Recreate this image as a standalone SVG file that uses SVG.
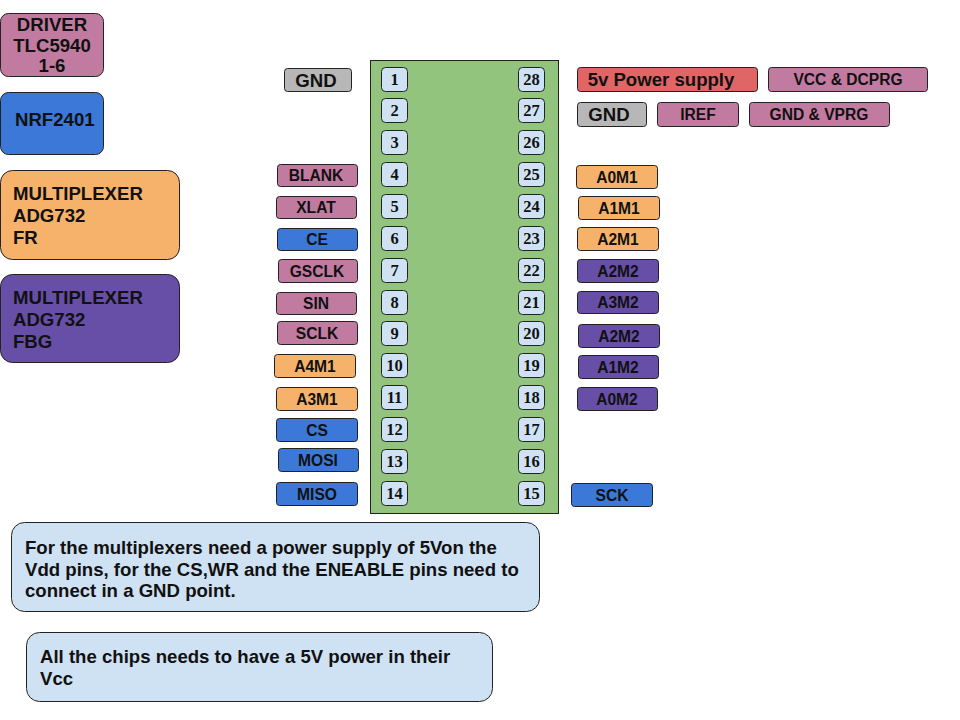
<svg xmlns="http://www.w3.org/2000/svg" width="960" height="720" viewBox="0 0 960 720">
<style>
.t{font-family:"Liberation Sans",Arial,sans-serif;font-weight:bold;fill:#111;}
.c{text-anchor:middle;}
.s15{font-size:15.6px;}
.s18{font-size:18.6px;}
.pn{font-family:"Liberation Serif","Times New Roman",serif;font-weight:bold;font-size:16.5px;fill:#111;text-anchor:middle;}
.lb{stroke:#222;stroke-width:1;}
.mag{fill:#c27ba0;}
.blu{fill:#3c78d8;}
.org{fill:#f6b26b;}
.pur{fill:#674ea7;}
.gry{fill:#b7b7b7;}
.red{fill:#e06666;}
.lbl{fill:#cfe2f3;}
.pin{fill:#cfe2f3;stroke:#222;stroke-width:1;}
</style>
<rect width="960" height="720" fill="#ffffff"/>

<!-- legend nodes -->
<g id="legend-driver"><rect class="lb mag" x="0.5" y="13.5" width="103" height="63" rx="8"/>
<text class="t s18 c" x="52" y="31">DRIVER</text><text class="t s18 c" x="52" y="52">TLC5940</text><text class="t s18 c" x="52" y="72">1-6</text></g>
<g id="legend-nrf"><rect class="lb blu" x="0.5" y="92.5" width="103" height="62" rx="8"/>
<text class="t s18" x="15" y="126">NRF2401</text></g>
<g id="legend-mux-fr"><rect class="lb org" x="0.5" y="170.5" width="179" height="89" rx="12"/>
<text class="t s18" x="13" y="200">MULTIPLEXER</text><text class="t s18" x="13" y="222">ADG732</text><text class="t s18" x="13" y="244">FR</text></g>
<g id="legend-mux-fbg"><rect class="lb pur" x="0.5" y="274.5" width="179" height="88" rx="12"/>
<text class="t s18" x="13" y="304">MULTIPLEXER</text><text class="t s18" x="13" y="326">ADG732</text><text class="t s18" x="13" y="348">FBG</text></g>

<!-- chip -->
<g id="chip"><rect x="370.5" y="60.5" width="188" height="453" fill="#93c47d" stroke="#222" stroke-width="1"/>
<rect class="pin" x="381.5" y="67.5" width="26" height="24" rx="4"/><text class="pn" x="394.5" y="85">1</text>
<rect class="pin" x="381.5" y="98.5" width="26" height="24" rx="4"/><text class="pn" x="394.5" y="116">2</text>
<rect class="pin" x="381.5" y="130.5" width="26" height="24" rx="4"/><text class="pn" x="394.5" y="148">3</text>
<rect class="pin" x="381.5" y="162.5" width="26" height="24" rx="4"/><text class="pn" x="394.5" y="180">4</text>
<rect class="pin" x="381.5" y="194.5" width="26" height="24" rx="4"/><text class="pn" x="394.5" y="212">5</text>
<rect class="pin" x="381.5" y="226.5" width="26" height="24" rx="4"/><text class="pn" x="394.5" y="244">6</text>
<rect class="pin" x="381.5" y="258.5" width="26" height="24" rx="4"/><text class="pn" x="394.5" y="276">7</text>
<rect class="pin" x="381.5" y="290.5" width="26" height="24" rx="4"/><text class="pn" x="394.5" y="308">8</text>
<rect class="pin" x="381.5" y="321.5" width="26" height="24" rx="4"/><text class="pn" x="394.5" y="339">9</text>
<rect class="pin" x="381.5" y="353.5" width="26" height="24" rx="4"/><text class="pn" x="394.5" y="371">10</text>
<rect class="pin" x="381.5" y="385.5" width="26" height="24" rx="4"/><text class="pn" x="394.5" y="403">11</text>
<rect class="pin" x="381.5" y="417.5" width="26" height="24" rx="4"/><text class="pn" x="394.5" y="435">12</text>
<rect class="pin" x="381.5" y="449.5" width="26" height="24" rx="4"/><text class="pn" x="394.5" y="467">13</text>
<rect class="pin" x="381.5" y="481.5" width="26" height="24" rx="4"/><text class="pn" x="394.5" y="499">14</text>
<rect class="pin" x="518.5" y="67.5" width="26" height="24" rx="4"/><text class="pn" x="531.5" y="85">28</text>
<rect class="pin" x="518.5" y="98.5" width="26" height="24" rx="4"/><text class="pn" x="531.5" y="116">27</text>
<rect class="pin" x="518.5" y="130.5" width="26" height="24" rx="4"/><text class="pn" x="531.5" y="148">26</text>
<rect class="pin" x="518.5" y="162.5" width="26" height="24" rx="4"/><text class="pn" x="531.5" y="180">25</text>
<rect class="pin" x="518.5" y="194.5" width="26" height="24" rx="4"/><text class="pn" x="531.5" y="212">24</text>
<rect class="pin" x="518.5" y="226.5" width="26" height="24" rx="4"/><text class="pn" x="531.5" y="244">23</text>
<rect class="pin" x="518.5" y="258.5" width="26" height="24" rx="4"/><text class="pn" x="531.5" y="276">22</text>
<rect class="pin" x="518.5" y="290.5" width="26" height="24" rx="4"/><text class="pn" x="531.5" y="308">21</text>
<rect class="pin" x="518.5" y="321.5" width="26" height="24" rx="4"/><text class="pn" x="531.5" y="339">20</text>
<rect class="pin" x="518.5" y="353.5" width="26" height="24" rx="4"/><text class="pn" x="531.5" y="371">19</text>
<rect class="pin" x="518.5" y="385.5" width="26" height="24" rx="4"/><text class="pn" x="531.5" y="403">18</text>
<rect class="pin" x="518.5" y="417.5" width="26" height="24" rx="4"/><text class="pn" x="531.5" y="435">17</text>
<rect class="pin" x="518.5" y="449.5" width="26" height="24" rx="4"/><text class="pn" x="531.5" y="467">16</text>
<rect class="pin" x="518.5" y="481.5" width="26" height="24" rx="4"/><text class="pn" x="531.5" y="499">15</text>
</g>

<!-- left pin labels -->
<g id="lbl-gnd-l"><rect class="lb gry" x="284.5" y="68.5" width="67" height="23" rx="3"/><text class="t s18 c" x="316" y="86.5">GND</text></g>
<g id="lbl-blank"><rect class="lb mag" x="277.5" y="164.5" width="80" height="22" rx="3"/><text class="t s15 c" x="316" y="181">BLANK</text></g>
<g id="lbl-xlat"><rect class="lb mag" x="276.5" y="196.5" width="80" height="22" rx="3"/><text class="t s15 c" x="316" y="213">XLAT</text></g>
<g id="lbl-ce"><rect class="lb blu" x="277.5" y="228.5" width="80" height="22" rx="3"/><text class="t s15 c" x="317" y="245">CE</text></g>
<g id="lbl-gsclk"><rect class="lb mag" x="278.5" y="259.5" width="79" height="23" rx="3"/><text class="t s15 c" x="317" y="276.5">GSCLK</text></g>
<g id="lbl-sin"><rect class="lb mag" x="276.5" y="292.5" width="80" height="22" rx="3"/><text class="t s15 c" x="316" y="309">SIN</text></g>
<g id="lbl-sclk"><rect class="lb mag" x="277.5" y="321.5" width="80" height="23" rx="3"/><text class="t s15 c" x="317" y="338.5">SCLK</text></g>
<g id="lbl-a4m1"><rect class="lb org" x="274.5" y="354.5" width="81" height="23" rx="3"/><text class="t s15 c" x="315" y="371.5">A4M1</text></g>
<g id="lbl-a3m1"><rect class="lb org" x="276.5" y="387.5" width="81" height="23" rx="3"/><text class="t s15 c" x="317" y="404.5">A3M1</text></g>
<g id="lbl-cs"><rect class="lb blu" x="276.5" y="418.5" width="81" height="23" rx="3"/><text class="t s15 c" x="317" y="435.5">CS</text></g>
<g id="lbl-mosi"><rect class="lb blu" x="278.5" y="448.5" width="80" height="23" rx="3"/><text class="t s15 c" x="318" y="465.5">MOSI</text></g>
<g id="lbl-miso"><rect class="lb blu" x="276.5" y="482.5" width="81" height="23" rx="3"/><text class="t s15 c" x="317" y="499.5">MISO</text></g>

<!-- right pin labels -->
<g id="lbl-5v"><rect class="lb red" x="577.5" y="67.5" width="180" height="24" rx="3"/><text class="t s18 c" x="661" y="86">5v Power supply</text></g>
<g id="lbl-vcc"><rect class="lb mag" x="768.5" y="67.5" width="159" height="24" rx="3"/><text class="t s15 c" x="848" y="85">VCC &amp; DCPRG</text></g>
<g id="lbl-gnd-r"><rect class="lb gry" x="577.5" y="102.5" width="69" height="24" rx="3"/><text class="t s18 c" x="609" y="121">GND</text></g>
<g id="lbl-iref"><rect class="lb mag" x="657.5" y="102.5" width="81" height="24" rx="3"/><text class="t s15 c" x="698" y="120">IREF</text></g>
<g id="lbl-gndvprg"><rect class="lb mag" x="749.5" y="102.5" width="140" height="24" rx="3"/><text class="t s15 c" x="819" y="120">GND &amp; VPRG</text></g>
<g id="lbl-a0m1"><rect class="lb org" x="576.5" y="165.5" width="81" height="23" rx="3"/><text class="t s15 c" x="617" y="182.5">A0M1</text></g>
<g id="lbl-a1m1"><rect class="lb org" x="578.5" y="196.5" width="81" height="23" rx="3"/><text class="t s15 c" x="619" y="213.5">A1M1</text></g>
<g id="lbl-a2m1"><rect class="lb org" x="577.5" y="227.5" width="81" height="23" rx="3"/><text class="t s15 c" x="618" y="244.5">A2M1</text></g>
<g id="lbl-a2m2a"><rect class="lb pur" x="577.5" y="259.5" width="81" height="23" rx="3"/><text class="t s15 c" x="618" y="276.5">A2M2</text></g>
<g id="lbl-a3m2"><rect class="lb pur" x="577.5" y="291.5" width="81" height="22" rx="3"/><text class="t s15 c" x="618" y="308">A3M2</text></g>
<g id="lbl-a2m2b"><rect class="lb pur" x="578.5" y="324.5" width="81" height="23" rx="3"/><text class="t s15 c" x="619" y="341.5">A2M2</text></g>
<g id="lbl-a1m2"><rect class="lb pur" x="578.5" y="355.5" width="80" height="23" rx="3"/><text class="t s15 c" x="618" y="372.5">A1M2</text></g>
<g id="lbl-a0m2"><rect class="lb pur" x="577.5" y="387.5" width="80" height="23" rx="3"/><text class="t s15 c" x="617" y="404.5">A0M2</text></g>
<g id="lbl-sck"><rect class="lb blu" x="571.5" y="483.5" width="81" height="23" rx="3"/><text class="t s15 c" x="612" y="501">SCK</text></g>

<!-- notes -->
<g id="note-mux"><rect class="lb lbl" x="11.5" y="522.5" width="528" height="89" rx="13"/>
<text class="t s18" x="25" y="554">For the multiplexers need a power supply of 5Von the</text>
<text class="t s18" x="25" y="575.5">Vdd pins, for the CS,WR and the ENEABLE pins need to</text>
<text class="t s18" x="25" y="597">connect in a GND point.</text></g>
<g id="note-vcc"><rect class="lb lbl" x="26.5" y="632.5" width="466" height="69" rx="13"/>
<text class="t s18" x="40" y="663">All the chips needs to have a 5V power in their</text>
<text class="t s18" x="40" y="685">Vcc</text></g>

<g id="connectors"></g>
</svg>
